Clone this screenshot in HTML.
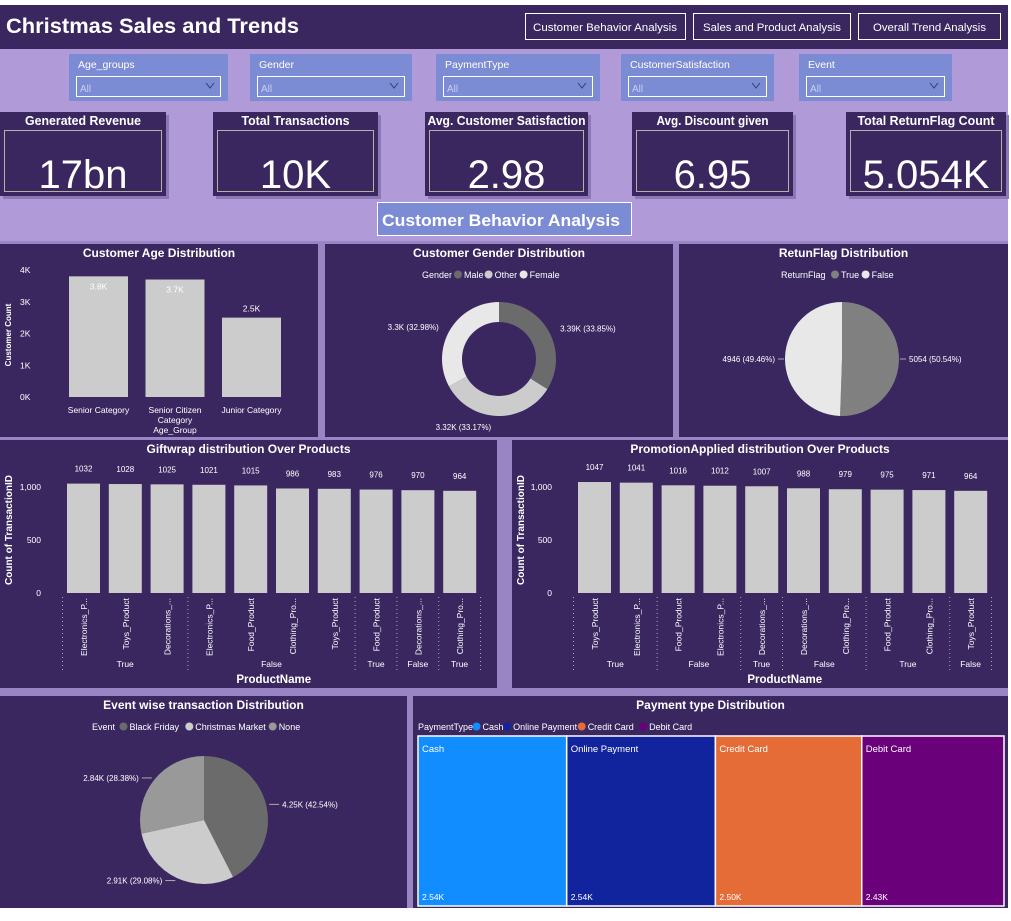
<!DOCTYPE html>
<html><head><meta charset="utf-8"><style>
body{margin:0;width:1011px;height:916px;overflow:hidden;background:#fff;font-family:"Liberation Sans Narrow","Liberation Sans",sans-serif;}
svg text{font-family:"Liberation Sans Narrow","Liberation Sans",sans-serif;}
</style></head><body>
<svg id="s" width="1011" height="916" xmlns="http://www.w3.org/2000/svg">
<rect x="0" y="5" width="1008" height="903" fill="#9985c4"/>
<rect x="0" y="5" width="1008" height="44" fill="#3a2760"/>
<text x="6" y="33" fill="#fff" font-size="21" font-weight="bold" textLength="293" lengthAdjust="spacingAndGlyphs">Christmas Sales and Trends</text>
<g><rect x="525.5" y="13.5" width="160" height="26" fill="none" stroke="#fff"/><text x="533" y="31" fill="#fff" font-size="11" textLength="144" lengthAdjust="spacingAndGlyphs">Customer Behavior Analysis</text></g>
<g><rect x="693.5" y="13.5" width="157" height="26" fill="none" stroke="#fff"/><text x="703" y="31" fill="#fff" font-size="11" textLength="138" lengthAdjust="spacingAndGlyphs">Sales and Product Analysis</text></g>
<g><rect x="858.5" y="13.5" width="142" height="26" fill="none" stroke="#fff"/><text x="873" y="31" fill="#fff" font-size="11" textLength="113" lengthAdjust="spacingAndGlyphs">Overall Trend Analysis</text></g>
<rect x="0" y="49" width="1008" height="192" fill="#b09ad8"/>
<g id="filters"></g>
<g id="kpis"></g>
<g><rect x="377.5" y="202.5" width="254" height="33" fill="#7b8bd4" stroke="#fff"/><text x="382" y="226" fill="#fff" font-size="17" font-weight="bold" textLength="238" lengthAdjust="spacingAndGlyphs">Customer Behavior Analysis</text></g>
<g id="charts"></g>
</svg>
<script>
const NS="http://www.w3.org/2000/svg";
const S=document.getElementById('s');
function el(tag,attrs,parent,txt){const e=document.createElementNS(NS,tag);for(const k in attrs)e.setAttribute(k,attrs[k]);if(txt!==undefined)e.textContent=txt;(parent||S).appendChild(e);return e;}

// filters
const filterNames=["Age_groups","Gender","PaymentType","CustomerSatisfaction","Event"];
const filterX=[69,250,436,621,799];
const filterW=[159,162,164,153,153];
filterNames.forEach((n,i)=>{
 const g=el('g',{},document.getElementById('filters'));
 
 
 el('rect',{x:filterX[i],y:54,width:filterW[i],height:47,fill:'#7b8bd4'},g);
 el('text',{x:filterX[i]+9,y:68,fill:'#fff','font-size':10.5},g,n);
 el('rect',{x:filterX[i]+7.5,y:76.5,width:filterW[i]-15,height:20,fill:'none',stroke:'#fff'},g);
 el('text',{x:filterX[i]+11,y:92,fill:'#c9cfee','font-size':10},g,'All');
 el('path',{d:`M${filterX[i]+filterW[i]-22} 83 l4 5 l4 -5`,fill:'none',stroke:'#3a3a6a'},g);
});

// KPIs
const kpiTitles=["Generated Revenue","Total Transactions","Avg. Customer Satisfaction","Avg. Discount given","Total ReturnFlag Count"];
const kpiValues=["17bn","10K","2.98","6.95","5.054K"];
const kpiX=[0,213,425,632,846];
const kpiW=[166,165,163,161,160];
const kpiTW=[116,108,158,112,137];
kpiTitles.forEach((t,i)=>{
 const g=el('g',{},document.getElementById('kpis'));
 
 
 el('rect',{x:kpiX[i]+3,y:115,width:kpiW[i],height:84,fill:'#8d78b6'},g);
 el('rect',{x:kpiX[i],y:112,width:kpiW[i],height:84,fill:'#3a2760'},g);
 el('text',{x:kpiX[i]+kpiW[i]/2,y:125,fill:'#fff','font-size':12.5,'font-weight':'bold','text-anchor':'middle',textLength:kpiTW[i],lengthAdjust:'spacingAndGlyphs'},g,t);
 el('rect',{x:kpiX[i]+4.5,y:130.5,width:kpiW[i]-9,height:61,fill:'none',stroke:'#b8b0a8'},g);
 el('text',{x:kpiX[i]+kpiW[i]/2,y:188,fill:'#fff','font-size':40,'text-anchor':'middle'},g,kpiValues[i]);
});

const C=document.getElementById('charts');
function panel(x,y,w,h,title,name){
 const g=el('g',{},C);
 
 
 el('rect',{x:x,y:y,width:w,height:h,fill:'#3a2760'},g);
 el('text',{x:x+w/2,y:y+13,fill:'#fff','font-size':12,'font-weight':'bold','text-anchor':'middle'},g,title);
 return g;
}
function arc(cx,cy,r,ri,a0,a1){
 const p=(a,rr)=>[cx+rr*Math.sin(a),cy-rr*Math.cos(a)];
 const L=(a1-a0)>Math.PI?1:0;
 const [x0,y0]=p(a0,r),[x1,y1]=p(a1,r);
 if(ri>0){const [x2,y2]=p(a1,ri),[x3,y3]=p(a0,ri);
  return `M${x0} ${y0}A${r} ${r} 0 ${L} 1 ${x1} ${y1}L${x2} ${y2}A${ri} ${ri} 0 ${L} 0 ${x3} ${y3}Z`;}
 return `M${cx} ${cy}L${x0} ${y0}A${r} ${r} 0 ${L} 1 ${x1} ${y1}Z`;
}
function legend(g,x,y,title,names,colors){
 let cx=x; el('text',{x:cx,y:y,fill:'#fff','font-size':9},g,title); cx+=title.length*4.5+5;
 names.forEach((n,i)=>{el('circle',{cx:cx+4,cy:y-3.5,r:4,fill:colors[i]},g);el('text',{x:cx+10,y:y,fill:'#fff','font-size':9},g,n);cx+=13+n.length*4.4;});
}

// Age chart
const ageCats=["Senior Category","Senior Citizen Category","Junior Category"];
const ageVals=[3.8,3.7,2.5];
const ageTicks=[0,1,2,3,4];
{
 const g=panel(0,244,318,193,'Customer Age Distribution','age-distribution-chart');
 const y=v=>397-v*31.75, x=i=>69+i*76.5;
 ageTicks.forEach(t=>el('text',{x:20,y:y(t)+3,fill:'#fff','font-size':8.5},g,t+'K'));
 el('text',{x:11,y:335,fill:'#fff','font-size':8,'font-weight':'bold','text-anchor':'middle',transform:'rotate(-90 11 335)'},g,'Customer Count');
 ageVals.forEach((v,i)=>{
  const b=el('rect',{x:x(i),y:y(v),width:59,height:397-y(v),fill:'#cccccc'},g);
  
  
  const inside=v>3;
  el('text',{x:x(i)+29.5,y:inside?y(v)+13:y(v)-6,fill:'#fff','font-size':8.5,'text-anchor':'middle'},g,v+'K');
 });
 const ls={fill:'#fff','font-size':8.5,'text-anchor':'middle'};
 el('text',Object.assign({x:x(0)+29.5,y:413},ls),g,'Senior Category');
 el('text',Object.assign({x:x(1)+29.5,y:413},ls),g,'Senior Citizen');
 el('text',Object.assign({x:x(1)+29.5,y:423},ls),g,'Category');
 el('text',Object.assign({x:x(1)+29.5,y:433},ls),g,'Age_Group');
 el('text',Object.assign({x:x(2)+29.5,y:413},ls),g,'Junior Category');
}

// Gender donut
const genderCats=["Male","Other","Female"];
const genderVals=[3.39,3.32,3.30];
const genderLabels=["3.39K (33.85%)","3.32K (33.17%)","3.3K (32.98%)"];
const genderColors=["#6b6b6b","#cccccc","#e8e8e8"];
{
 const g=panel(325,244,348,193,'Customer Gender Distribution','gender-distribution-chart');
 legend(g,422,278,'Gender',genderCats,genderColors);
 const tot=genderVals.reduce((a,b)=>a+b,0); let a=0;
 const cx=499,cy=359,r=57;
 genderVals.forEach((v,i)=>{const a1=a+v/tot*2*Math.PI;
  const p=el('path',{d:arc(cx,cy,r,37,a,a1),fill:genderColors[i]},g);
  
  
  const m=(a+a1)/2, lx=cx+(r+6)*Math.sin(m), ly=cy-(r+6)*Math.cos(m);
  const right=Math.sin(m)>0.2, left=Math.sin(m)<-0.2;
  if(right){el('text',{x:lx+6,y:ly+3,fill:'#fff','font-size':8},g,genderLabels[i]);}
  else if(left){el('text',{x:lx-6,y:ly+3,fill:'#fff','font-size':8,'text-anchor':'end'},g,genderLabels[i]);}
  else {el('text',{x:lx-6,y:ly+8,fill:'#fff','font-size':8,'text-anchor':'end'},g,genderLabels[i]);}
  a=a1;});
}

// Return flag pie
const retCats=["True","False"];
const retVals=[5054,4946];
const retLabels=["5054 (50.54%)","4946 (49.46%)"];
const retColors=["#808080","#e8e8e8"];
{
 const g=panel(679,244,329,193,'RetunFlag Distribution','returnflag-distribution-chart');
 legend(g,781,278,'ReturnFlag',retCats,retColors);
 const tot=retVals.reduce((a,b)=>a+b,0); let a=0; const cx=842,cy=359,r=57;
 retVals.forEach((v,i)=>{const a1=a+v/tot*2*Math.PI;
  const p=el('path',{d:arc(cx,cy,r,0,a,a1),fill:retColors[i]},g);
  
  
  const m=(a+a1)/2, s=Math.sin(m)>0;
  el('line',{x1:s?cx+r+1:cx-r-1,y1:cy,x2:s?cx+r+7:cx-r-7,y2:cy,stroke:'#aaa'},g);
  el('text',{x:s?cx+r+10:cx-r-10,y:cy+3,fill:'#fff','font-size':8,'text-anchor':s?'start':'end'},g,retLabels[i]);
  a=a1;});
}

// bar chart helper
function prodChart(x0,w,title,name,names,vals,groups,barX,step){
 const g=panel(x0,440,w,248,title,name);
 const y=v=>593-v*0.106;
 [0,500,1000].forEach(t=>el('text',{x:barX-26,y:y(t)+3,fill:'#fff','font-size':8.5,'text-anchor':'end'},g,t===1000?'1,000':String(t)));
 const yc=530, yx=x0+12;
 el('text',{x:yx,y:yc,fill:'#fff','font-size':10,'font-weight':'bold','text-anchor':'middle',transform:`rotate(-90 ${yx} ${yc})`},g,'Count of TransactionID');
 vals.forEach((v,i)=>{
  const bx=barX+i*step;
  const b=el('rect',{x:bx,y:y(v),width:33,height:593-y(v),fill:'#cccccc'},g);
  
  
  el('text',{x:bx+16.5,y:y(v)-12,fill:'#fff','font-size':8,'text-anchor':'middle'},g,String(v));
  const tx=bx+20,ty=598;
  el('text',{x:tx,y:ty,fill:'#fff','font-size':8.5,'text-anchor':'end',transform:`rotate(-90 ${tx} ${ty})`},g,names[i]);
 });
 let s=0;
 const bound=i=>barX-4.5+i*step;
 el('line',{x1:bound(0),y1:597,x2:bound(0),y2:672,stroke:'#aaa','stroke-dasharray':'1 3'},g);
 groups.forEach(([lab,n])=>{
  const e=s+n;
  el('line',{x1:bound(e),y1:597,x2:bound(e),y2:672,stroke:'#aaa','stroke-dasharray':'1 3'},g);
  el('text',{x:(bound(s)+bound(e))/2,y:667,fill:'#fff','font-size':8.5,'text-anchor':'middle'},g,lab);
  s=e;});
 el('text',{x:(barX+bound(vals.length))/2,y:683,fill:'#fff','font-size':11.5,'font-weight':'bold','text-anchor':'middle'},g,'ProductName');
}
const giftNames=["Electronics_P...","Toys_Product","Decorations_...","Electronics_P...","Food_Product","Clothing_Pro...","Toys_Product","Food_Product","Decorations_...","Clothing_Pro..."];
const giftVals=[1032,1028,1025,1021,1015,986,983,976,970,964];
const giftGroups=[["True",3],["False",4],["True",1],["False",1],["True",1]];
const promoNames=["Toys_Product","Electronics_P...","Food_Product","Electronics_P...","Decorations_...","Decorations_...","Clothing_Pro...","Food_Product","Clothing_Pro...","Toys_Product"];
const promoVals=[1047,1041,1016,1012,1007,988,979,975,971,964];
const promoGroups=[["True",2],["False",2],["True",1],["False",2],["True",2],["False",1]];
prodChart(0,497,'Giftwrap distribution Over Products','giftwrap-chart',giftNames,giftVals,giftGroups,67,41.8);
prodChart(512,496,'PromotionApplied distribution Over Products','promotion-chart',promoNames,promoVals,promoGroups,578,41.8);

// Event pie
const eventCats=["Black Friday","Christmas Market","None"];
const eventVals=[4.25,2.91,2.84];
const eventLabels=["4.25K (42.54%)","2.91K (29.08%)","2.84K (28.38%)"];
const eventColors=["#6b6b6b","#cccccc","#999999"];
{
 const g=panel(0,696,407,212,'Event wise transaction Distribution','event-distribution-chart');
 legend(g,92,730,'Event',eventCats,eventColors);
 const tot=eventVals.reduce((a,b)=>a+b,0); let a=0; const cx=204,cy=820,r=64;
 eventVals.forEach((v,i)=>{const a1=a+v/tot*2*Math.PI;
  const p=el('path',{d:arc(cx,cy,r,0,a,a1),fill:eventColors[i]},g);
  
  
  const m=(a+a1)/2, s=Math.sin(m)>0;
  const lx=cx+(r+3)*Math.sin(m), ly=cy-(r+3)*Math.cos(m);
  el('line',{x1:lx,y1:ly,x2:s?lx+10:lx-10,y2:ly,stroke:'#aaa'},g);
  el('text',{x:s?lx+13:lx-13,y:ly+3,fill:'#fff','font-size':8,'text-anchor':s?'start':'end'},g,eventLabels[i]);
  a=a1;});
}

// Payment treemap
const payCats=["Cash","Online Payment","Credit Card","Debit Card"];
const payVals=[2.54,2.54,2.50,2.43];
const payLabels=["2.54K","2.54K","2.50K","2.43K"];
const payColors=["#118dff","#12239e","#e66c37","#6b007b"];
{
 const g=panel(413,696,595,212,'Payment type Distribution','payment-distribution-chart');
 legend(g,418,730,'PaymentType',payCats,payColors);
 const tot=payVals.reduce((a,b)=>a+b,0); const X0=418,W=586; let x=X0;
 payVals.forEach((v,i)=>{const w=v/tot*W;
  const r=el('rect',{x:x,y:736,width:w,height:170,fill:payColors[i],stroke:'#fff','stroke-width':1.5},g);
  
  
  el('text',{x:x+4,y:752,fill:'#fff','font-size':9.5},g,payCats[i]);
  el('text',{x:x+4,y:900,fill:'#fff','font-size':8.5},g,payLabels[i]);
  x+=w;});
}
</script>
</body></html>
